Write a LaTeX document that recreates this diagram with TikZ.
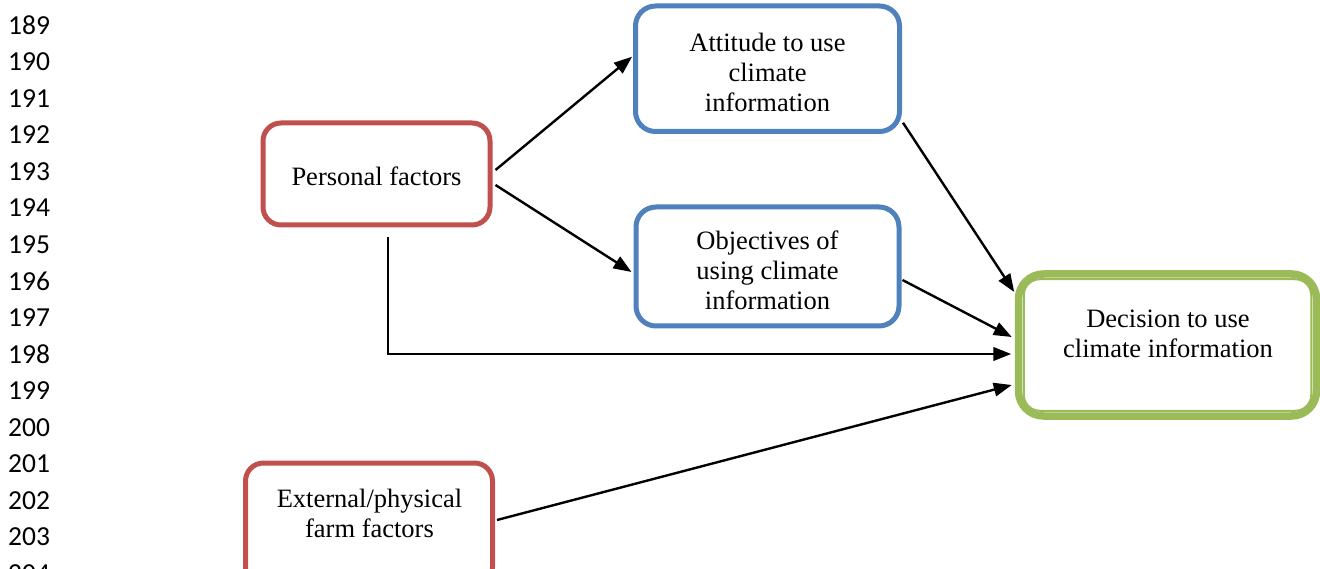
\documentclass[tikz,border=0pt]{standalone}
\usepackage{fontspec}
\setmainfont{Liberation Serif}
\newfontfamily\numfont{Carlito}
\usetikzlibrary{arrows.meta,calc}
\definecolor{redbox}{HTML}{C0504D}
\definecolor{bluebox}{HTML}{4F81BD}
\definecolor{greenbox}{HTML}{9BBB59}
\begin{document}
\begin{tikzpicture}[x=1pt,y=-1pt,
  txt/.style={font=\fontsize{26.5}{30}\selectfont, align=center, text=black, inner sep=0pt},
  boxbase/.style={draw, rectangle, line width=5pt, inner sep=0pt, fill=white},
  redb/.style={boxbase, draw=redbox, rounded corners=18pt},
  blueb/.style={boxbase, draw=bluebox, rounded corners=20pt},
  greenb/.style={boxbase, draw=greenbox, line width=7.5pt, rounded corners=25pt},
  arr/.style={line width=2.4pt, -{Triangle[length=18pt,width=13.5pt]}},
  lnum/.style={font=\numfont\fontsize{27.5}{27.5}\selectfont, anchor=west, inner sep=0pt}
]
\useasboundingbox (0,0) rectangle (1320,569);
\fill[white] (0,0) rectangle (1320,569);

% line numbers
\foreach \n [count=\i from 0] in {189,190,191,192,193,194,195,196,197,198,199,200,201,202,203,204}
  \node[lnum] (ln\n) at (8, 25+36.57*\i) {\n};

% boxes
\node[blueb, minimum width=264pt, minimum height=125.5pt] (att) at (767.5,68.75) {};
\node[txt] (atttext) at (767.5,72.5) {Attitude to use\\climate\\information};
\node[redb, minimum width=227pt, minimum height=102pt] (pf) at (376.5,174) {};
\node[txt] (pftext) at (376.5,176) {Personal factors};
\node[blueb, minimum width=263pt, minimum height=119pt] (obj) at (767.5,266.5) {};
\node[txt] (objtext) at (767.5,270) {Objectives of\\using climate\\information};
\node[greenb, minimum width=298pt, minimum height=142pt] (dec) at (1167.5,345) {};
\draw[greenbox, line width=2pt, rounded corners=16pt]
  ($(dec.north west)+(9,9)$) rectangle ($(dec.south east)+(-9,-9)$);
\node[txt] (dectext) at (1168,334) {Decision to use\\climate information};
\node[redb, minimum width=247pt, minimum height=122pt] (ext) at (369,524) {};
\node[txt] (exttext) at (369.5,513) {External/physical\\farm factors};

% connectors
\draw[arr] ($(pf.east)+(3,-4)$) -- ($(att.west)+(-1,-12)$);
\draw[arr] ($(pf.east)+(3,11)$) -- ($(obj.west)+(-2,5.5)$);
\draw[arr] ($(pf.south)+(11.5,10)$) |- ($(dec.west)+(-3.5,9)$);
\draw[arr] ($(att.east)+(1,54)$) -- ($(dec.west)+(-0.5,-53)$);
\draw[arr] ($(obj.east)+(1,13.5)$) -- ($(dec.west)+(-3,-8)$);
\draw[arr] ($(ext.east)+(2,-4)$) -- ($(dec.west)+(-3,40)$);
\end{tikzpicture}
\end{document}
